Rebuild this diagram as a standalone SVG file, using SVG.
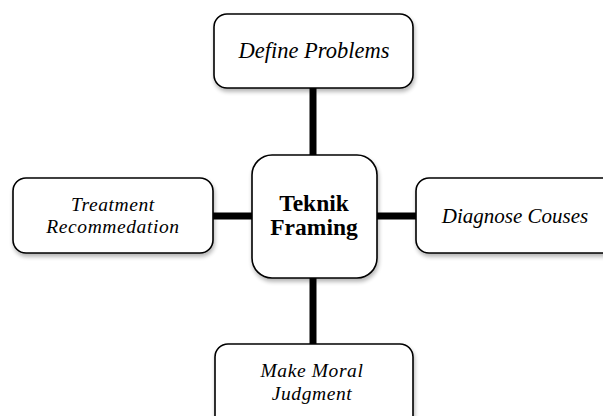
<svg xmlns="http://www.w3.org/2000/svg" width="603" height="416" viewBox="0 0 603 416">
<defs>
<filter id="sh" x="-10%" y="-10%" width="125%" height="130%">
<feGaussianBlur in="SourceAlpha" stdDeviation="2"/>
<feOffset dx="1" dy="3" result="b"/>
<feComponentTransfer><feFuncA type="linear" slope="0.3"/></feComponentTransfer>
<feMerge><feMergeNode/><feMergeNode in="SourceGraphic"/></feMerge>
</filter>
</defs>
<style>
.box{fill:#fff;stroke:#000;stroke-width:1.6;filter:url(#sh)}
.it{font-family:"Liberation Serif","Times New Roman",serif;font-style:italic;font-size:21px;text-anchor:middle;fill:#000}
.sm{font-size:19.5px;letter-spacing:0.6px}
.bd{font-family:"Liberation Serif","Times New Roman",serif;font-weight:bold;font-size:23.5px;text-anchor:middle;fill:#000}
.con{stroke:#000;stroke-width:7;fill:none}
</style>
<rect width="603" height="416" fill="#fff"/>
<g id="connectors">
<line class="con" x1="313" y1="88" x2="313" y2="155"/>
<line class="con" x1="313" y1="278" x2="313" y2="344"/>
<line class="con" x1="213" y1="216" x2="252" y2="216"/>
<line class="con" x1="377" y1="216" x2="416" y2="216"/>
</g>
<g id="define">
<rect class="box" x="214" y="14" width="199" height="74" rx="13"/>
<text class="it" x="314" y="58" style="font-size:22.5px">Define Problems</text>
</g>
<g id="treatment">
<rect class="box" x="13" y="178" width="200" height="75" rx="13"/>
<text class="it sm" x="113" y="210.5">Treatment</text>
<text class="it sm" x="113" y="233">Recommedation</text>
</g>
<g id="center">
<rect class="box" x="252" y="155" width="125" height="123" rx="20"/>
<text class="bd" x="314" y="211">Teknik</text>
<text class="bd" x="314" y="235">Framing</text>
</g>
<g id="diagnose">
<rect class="box" x="416" y="178" width="200" height="75" rx="13"/>
<text class="it" x="515" y="223">Diagnose Couses</text>
</g>
<g id="moral">
<rect class="box" x="215" y="344" width="198" height="90" rx="13"/>
<text class="it sm" x="312" y="377">Make Moral</text>
<text class="it sm" x="312" y="399.5">Judgment</text>
</g>
</svg>
